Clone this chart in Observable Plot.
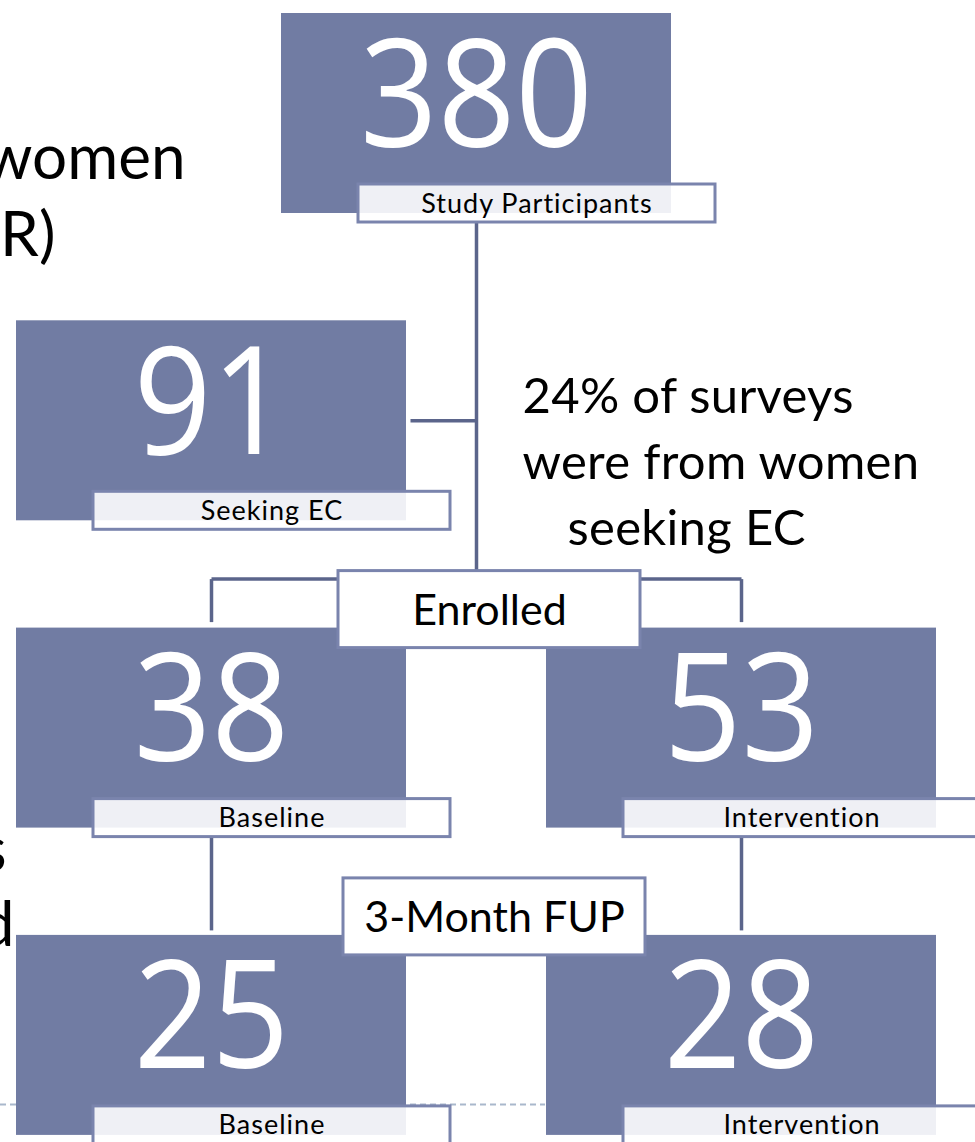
<!DOCTYPE html>
<html>
<head>
<meta charset="utf-8">
<script src="https://cdn.jsdelivr.net/npm/d3@7"></script>
<script src="https://cdn.jsdelivr.net/npm/@observablehq/plot@0.6"></script>
<style>
  html, body { margin: 0; padding: 0; background: #fff; overflow: hidden; }
  #chart svg { display: block; }
</style>
</head>
<body>
<div id="chart"></div>
<script>
// ---- data ----
const counts      = [380, 91, 38, 53, 25, 28];
const countLabels = ["Study Participants", "Seeking EC", "Baseline", "Intervention", "Baseline", "Intervention"];
const nodeCol     = [1, 0, 0, 2, 0, 2];   // grid column of each node
const nodeRow     = [0, 1, 2, 2, 3, 3];   // grid row of each node
const stageNames  = ["Enrolled", "3-Month FUP"];
const stageRow    = [2, 3];
const noteLines   = ["24% of surveys", "were from women", "seeking EC"];
const cutLines    = ["women", "R)", "s", "d"];   // slide text cut off at the left edge

// ---- layout (grid -> page) ----
const colX = c => 211 + 265 * c;          // column centre
const rowY = r => 13 + 307.3 * r;         // box top
const BW = 390, BH = 200;

const nodes = counts.map((v, i) => {
  const cx = colX(nodeCol[i]), top = rowY(nodeRow[i]);
  return {
    value: String(v), label: countLabels[i], cx, top,
    x1: cx - BW / 2, x2: cx + BW / 2, y1: top, y2: top + BH,
    lx1: cx - BW / 2 + 77, lx2: cx - BW / 2 + 77 + 357, ly1: top + 171, ly2: top + 209
  };
});
nodes.forEach(n => { n.lcx = (n.lx1 + n.lx2) / 2; });

const stages = stageNames.map((s, i) => {
  const cy = rowY(stageRow[i]) - 19;
  const cx = 489 + i * 5;
  return {name: s, cx, cy, x1: cx - 151, x2: cx + 151, y1: cy - 38, y2: cy + 39};
});

const trunkX = colX(1);
const links = [
  {x1: trunkX, y1: nodes[0].ly2, x2: trunkX, y2: stages[0].y1},
  {x1: nodes[1].x2 + 4, y1: nodes[1].top + BH / 2, x2: trunkX, y2: nodes[1].top + BH / 2},
  {x1: colX(0), y1: stages[0].y1 + 8, x2: colX(2), y2: stages[0].y1 + 8},
  {x1: colX(0), y1: stages[0].y1 + 8, x2: colX(0), y2: nodes[2].top - 6},
  {x1: colX(2), y1: stages[0].y1 + 8, x2: colX(2), y2: nodes[3].top - 6},
  {x1: colX(0), y1: nodes[2].ly2, x2: colX(0), y2: nodes[4].top - 5},
  {x1: colX(2), y1: nodes[3].ly2, x2: colX(2), y2: nodes[5].top - 5}
];

const notes = noteLines.map((t, i) => ({text: t, x: 522 + (i === 2 ? 45 : 0), y: 412 + 66 * i}));
const cuts = [
  {text: cutLines[0], x: 185, y: 178},
  {text: cutLines[1], x: 55, y: 255},
  {text: cutLines[2], x: 6, y: 870},
  {text: cutLines[3], x: 14, y: 945}
];

const BOX = "#717ca3", EDGE = "#7a84ad", LINE = "#5b658b";

const chart = Plot.plot({
  width: 975,
  height: 1142,
  margin: 0,
  x: {domain: [0, 975], range: [0, 975], axis: null},
  y: {domain: [0, 1142], range: [0, 1142], axis: null},
  style: {fontFamily: "Lato, 'Open Sans', sans-serif", background: "white", overflow: "hidden"},
  marks: [
    Plot.ruleY([1104], {x1: 0, x2: 545, stroke: "#a9b8cc", strokeWidth: 2, strokeDasharray: "6,4"}),
    Plot.link(links, {x1: "x1", y1: "y1", x2: "x2", y2: "y2", stroke: LINE, strokeWidth: 3.5}),
    Plot.rect(nodes, {x1: "x1", x2: "x2", y1: "y1", y2: "y2", fill: BOX}),
    Plot.rect(nodes, {x1: "lx1", x2: "lx2", y1: "ly1", y2: "ly2", fill: "white", fillOpacity: 0.885, stroke: EDGE, strokeWidth: 3}),
    Plot.text(nodes, {x: "cx", y: d => d.top + 133, text: "value", fill: "white", fontSize: 151, fontFamily: "'Open Sans', sans-serif", lineAnchor: "bottom", textAnchor: "middle"}),
    Plot.text(nodes, {x: "lcx", y: d => d.top + 199, text: "label", fill: "black", fontSize: 27, lineAnchor: "bottom", textAnchor: "middle"}),
    Plot.rect(stages, {x1: "x1", x2: "x2", y1: "y1", y2: "y2", fill: "white", stroke: EDGE, strokeWidth: 3}),
    Plot.text(stages, {x: "cx", y: d => d.cy + 16, text: "name", fill: "black", fontSize: 43, lineAnchor: "bottom", textAnchor: "middle"}),
    Plot.text(notes, {x: "x", y: "y", text: "text", fill: "black", fontSize: 49, lineAnchor: "bottom", textAnchor: "start"}),
    Plot.text(cuts, {x: "x", y: "y", text: "text", fill: "black", fontSize: 62, lineAnchor: "bottom", textAnchor: "end"})
  ]
});
// narrow the big count numerals horizontally (the original face is narrower)
d3.select(chart).selectAll('g[font-size="151"] text')
  .attr("transform", function() { return this.getAttribute("transform") + " scale(0.9,1)"; });
// the original label face is a little wider: open up the tracking
d3.select(chart).selectAll('g[font-size="27"]').attr("letter-spacing", "1px");
d3.select(chart).selectAll('g[font-size="49"]').attr("letter-spacing", "0.3px");
document.getElementById("chart").appendChild(chart);
</script>
</body>
</html>
